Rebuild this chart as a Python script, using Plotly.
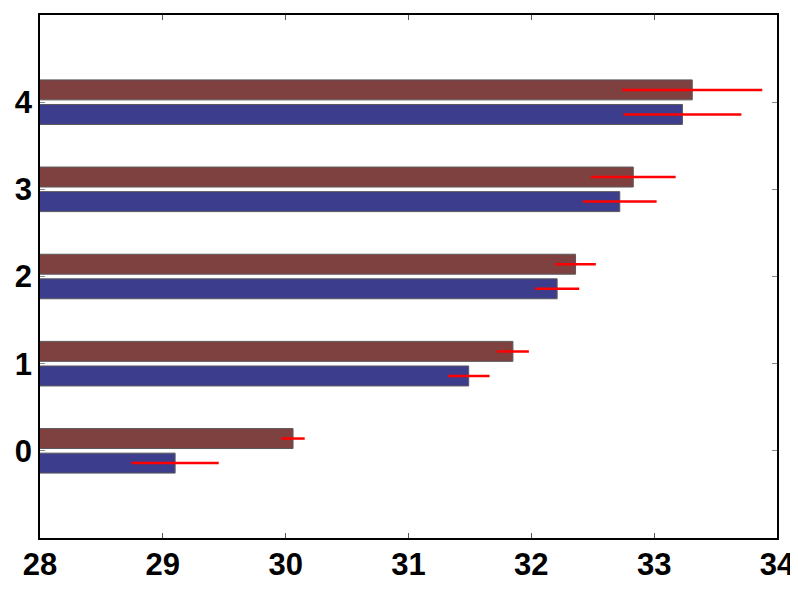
import plotly.graph_objects as go

categorias = [0, 1, 2, 3, 4]

# serie azul (barra de baixo em cada grupo)
azul_valores = [29.10, 31.49, 32.21, 32.72, 33.23]
azul_erros = [0.355, 0.17, 0.18, 0.30, 0.48]

# serie marrom (barra de cima)
marrom_valores = [30.06, 31.85, 32.36, 32.83, 33.31]
marrom_erros = [0.095, 0.13, 0.165, 0.345, 0.57]

x_ticks = [28, 29, 30, 31, 32, 33, 34]

fig = go.Figure()
fig.add_trace(go.Bar(
    x=azul_valores, y=categorias, orientation='h',
    marker=dict(color='#3D3D8E', line=dict(color='#5A5A5A', width=1)),
    error_x=dict(type='data', array=azul_erros, color='#FF0000',
                 thickness=2.5, width=0),
))
fig.add_trace(go.Bar(
    x=marrom_valores, y=categorias, orientation='h',
    marker=dict(color='#7F4040', line=dict(color='#5A5A5A', width=1)),
    error_x=dict(type='data', array=marrom_erros, color='#FF0000',
                 thickness=2.5, width=0),
))

# a pagina tem ~8px de margem no body, por isso a figura e menor
fig.update_layout(
    width=790, height=592,
    margin=dict(l=32, r=21, t=7, b=62),
    barmode='group', bargap=0.436, bargroupgap=0.188,
    showlegend=False,
    plot_bgcolor='white', paper_bgcolor='white',
    font=dict(family='Liberation Sans', size=31, color='black', weight='bold'),
    xaxis=dict(range=[28, 34], tickvals=x_ticks, ticks='inside', ticklen=5,
               tickcolor='#555555', showline=True, linecolor='black',
               linewidth=1.5, mirror='ticks', showgrid=False, zeroline=False,
               ticklabelstandoff=-2, automargin=False),
    yaxis=dict(range=[-1, 5], tickvals=categorias, ticks='inside', ticklen=5,
               tickcolor='#888888', showline=True, linecolor='black',
               linewidth=1.5, mirror='ticks', showgrid=False, zeroline=False,
               ticklabelstandoff=0, automargin=False),
)

fig.write_html("out.html")
